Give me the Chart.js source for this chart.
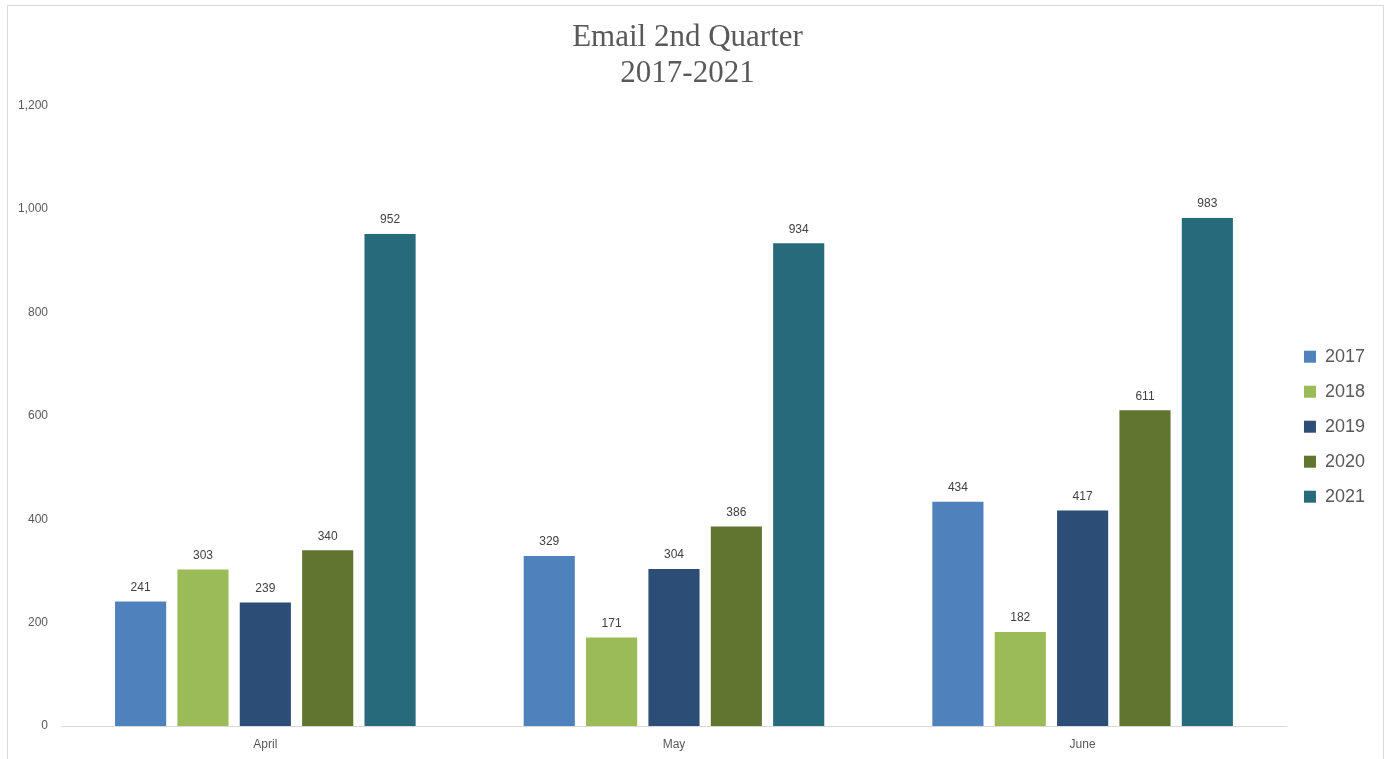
<!DOCTYPE html>
<html>
<head>
<meta charset="utf-8">
<script src="https://cdn.jsdelivr.net/npm/chart.js@4.4.1/dist/chart.umd.min.js"></script>
<style>
  html, body { margin: 0; padding: 0; background: #fff; }
  #wrap { position: absolute; left: 0; top: 0; width: 1384px; height: 759px; }
  #frame { position: absolute; left: 7px; top: 5px; width: 1375px; height: 800px; border: 1px solid #d9d9d9; pointer-events: none; }
</style>
</head>
<body>
<div id="wrap"><canvas id="emailChart" width="1384" height="759"></canvas></div>
<div id="frame"></div>
<script>
const months = ['April', 'May', 'June'];
const years = ['2017', '2018', '2019', '2020', '2021'];
const values2017 = [241, 329, 434];
const values2018 = [303, 171, 182];
const values2019 = [239, 304, 417];
const values2020 = [340, 386, 611];
const values2021 = [952, 934, 983];
const colors = ['#4f81bd', '#9bbb59', '#2c4d75', '#5f7530', '#276a7c'];

const series = [values2017, values2018, values2019, values2020, values2021];

// value labels above each bar
const barLabels = {
  id: 'barLabels',
  afterDatasetsDraw(chart) {
    const ctx = chart.ctx;
    ctx.save();
    ctx.font = '12px "Liberation Sans", Arial, sans-serif';
    ctx.fillStyle = '#404040';
    ctx.textAlign = 'center';
    ctx.textBaseline = 'bottom';
    chart.data.datasets.forEach((ds, i) => {
      chart.getDatasetMeta(i).data.forEach((bar, j) => {
        ctx.fillText(ds.data[j], bar.x, bar.y - 8);
      });
    });
    ctx.restore();
  }
};

new Chart(document.getElementById('emailChart'), {
  type: 'bar',
  data: {
    labels: months,
    datasets: years.map((y, i) => ({
      label: y,
      data: series[i],
      backgroundColor: colors[i],
      categoryPercentage: 0.763,
      barPercentage: 0.82
    }))
  },
  options: {
    responsive: false,
    animation: false,
    layout: { padding: { left: 0, right: 9, top: 0, bottom: 0 } },
    plugins: {
      title: {
        display: true,
        text: ['Email 2nd Quarter', '2017-2021'],
        color: '#595959',
        font: { family: '"Liberation Serif", serif', size: 31, weight: 'normal', lineHeight: 1.19 },
        padding: { top: 19, bottom: 13 }
      },
      legend: {
        position: 'right',
        title: { display: true, text: ' ', font: { size: 12 }, padding: { top: 40, bottom: 40 } },
        labels: {
          boxWidth: 12,
          boxHeight: 12,
          padding: 17,
          color: '#595959',
          font: { family: '"Liberation Sans", Arial, sans-serif', size: 18 }
        }
      },
      tooltip: { enabled: false }
    },
    scales: {
      x: {
        grid: { display: false, drawTicks: false },
        border: { display: true, color: '#d9d9d9' },
        ticks: { color: '#595959', padding: 11, font: { family: '"Liberation Sans", Arial, sans-serif', size: 12 } },
        afterFit: s => { s.height = 33; }
      },
      y: {
        min: 0,
        max: 1200,
        ticks: { stepSize: 200, color: '#595959', padding: 13, font: { family: '"Liberation Sans", Arial, sans-serif', size: 12 } },
        grid: { display: false, drawTicks: false },
        border: { display: false },
        afterFit: s => { s.width = 61; }
      }
    }
  },
  plugins: [barLabels]
});
</script>
</body>
</html>
